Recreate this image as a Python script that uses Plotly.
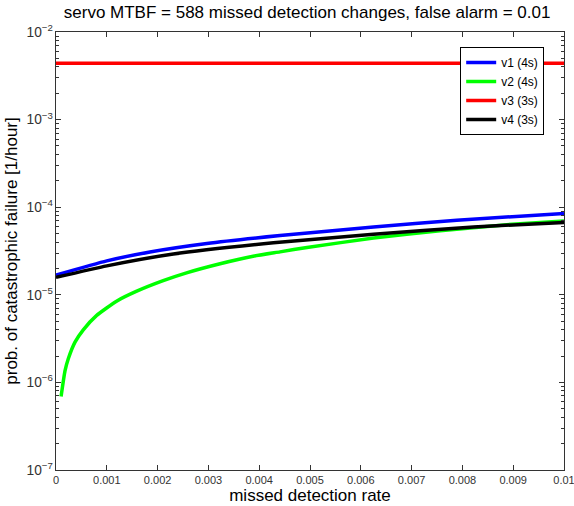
import plotly.graph_objects as go

x_v1 = [0.0, 0.001, 0.00185, 0.00297, 0.00441, 0.00625, 0.00789, 0.01]
y_v1 = [1.68e-5, 2.44e-5, 3.08e-5, 3.85e-5, 4.74e-5, 5.96e-5, 7.1e-5, 8.5e-5]

x_v2 = [0.0001, 0.000177, 0.000242, 0.000374, 0.000537, 0.000801, 0.0012, 0.00159, 0.00211,
        0.00257, 0.00323, 0.00388, 0.00441, 0.00494, 0.00625, 0.00756, 0.00887, 0.01]
y_v2 = [6.9e-7, 1.35e-6, 1.86e-6, 2.88e-6, 3.98e-6, 5.82e-6, 8.51e-6, 1.10e-5, 1.45e-5,
        1.78e-5, 2.26e-5, 2.75e-5, 3.09e-5, 3.47e-5, 4.44e-5, 5.37e-5, 6.31e-5, 6.98e-5]

x_v3 = [0.0, 0.01]
y_v3 = [4.4e-3, 4.4e-3]

x_v4 = [0.0, 0.001, 0.00231, 0.00428, 0.00625, 0.00822, 0.01]
y_v4 = [1.58e-5, 2.14e-5, 2.92e-5, 3.92e-5, 4.92e-5, 5.96e-5, 6.7e-5]

series = [
    ("v1 (4s)", x_v1, y_v1, "#0000ff"),
    ("v2 (4s)", x_v2, y_v2, "#00ff00"),
    ("v3 (3s)", x_v3, y_v3, "#ff0000"),
    ("v4 (3s)", x_v4, y_v4, "#000000"),
]

x_ticks = [0, 0.001, 0.002, 0.003, 0.004, 0.005, 0.006, 0.007, 0.008, 0.009, 0.01]
x_labels = ["0", "0.001", "0.002", "0.003", "0.004", "0.005", "0.006", "0.007", "0.008", "0.009", "0.01"]

fig = go.Figure()
for name, xs, ys, c in series:
    fig.add_trace(go.Scatter(x=xs, y=ys, mode="lines", name=name,
                             line=dict(color=c, width=3.5, shape="spline", smoothing=0.5)))

font = "Liberation Sans, Arial, sans-serif"
fig.update_layout(
    width=574, height=506,
    margin=dict(l=56, r=10, t=32, b=36),
    paper_bgcolor="white", plot_bgcolor="white",
    font=dict(family=font, color="#000000"),
    title=dict(text="servo MTBF = 588 missed detection changes, false alarm = 0.01",
               x=0.535, xanchor="center", y=0.988, yanchor="top",
               font=dict(size=17, family=font)),
    showlegend=True,
    legend=dict(x=0.961, y=0.966, xanchor="right", yanchor="top",
                bgcolor="white", bordercolor="#000000", borderwidth=1,
                font=dict(size=12, family=font), tracegroupgap=0,
                itemwidth=30),
    xaxis=dict(range=[0, 0.01], tickvals=x_ticks, ticktext=x_labels, automargin=False,
               ticklabeloverflow="allow",
               ticks="inside", ticklen=5, tickcolor="#333", mirror="ticks",
               showline=True, linecolor="#333", linewidth=1, showgrid=False, zeroline=False,
               tickfont=dict(size=11, color="#333"),
               title=dict(text="missed detection rate", font=dict(size=17), standoff=2)),
    yaxis=dict(type="log", range=[-7, -2], dtick=1, exponentformat="power", automargin=False,
               ticks="inside", ticklen=5, tickcolor="#333", mirror="ticks",
               showline=True, linecolor="#333", linewidth=1, showgrid=False, zeroline=False,
               tickfont=dict(size=11, color="#333"),
               minor=dict(ticks="inside", ticklen=3, dtick="D1", tickcolor="#333", showgrid=False),
               title=dict(text="prob. of catastrophic failure [1/hour]", font=dict(size=17), standoff=4)),
)

fig.write_html("out.html", config={"displayModeBar": False},
               post_script="document.body.style.margin='0';document.body.style.overflow='hidden';")
